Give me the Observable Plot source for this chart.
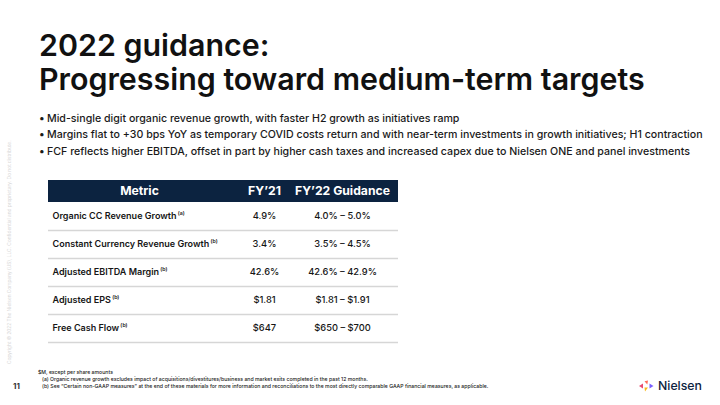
<!DOCTYPE html>
<html><head><meta charset="utf-8">
<script src="https://cdn.jsdelivr.net/npm/d3@7"></script>
<script src="https://cdn.jsdelivr.net/npm/@observablehq/plot@0.6"></script>
<style>
body{margin:0;background:#fff;}
#slide{position:relative;width:720px;height:405px;overflow:hidden;font-family:Inter,"Noto Sans",sans-serif;color:#111;background:#fff;}
.abs{position:absolute;white-space:nowrap;}
#title div{line-height:1;font-weight:600;color:#111;}
#bullets div{color:#1a1a1a;font-weight:500;}
#notes div{color:#222;font-weight:500;}
#chart{position:absolute;left:0;top:0;}
</style></head><body>
<div id="slide">
  <div id="title" class="abs" style="left:39px;top:0"></div>
  <div id="bullets" class="abs" style="left:0;top:0"></div>
  <div id="chart"></div>
  <div id="copy" class="abs"></div>
  <div id="page" class="abs"></div>
  <div id="notes" class="abs" style="left:0;top:0"></div>
  <div id="logo" class="abs"></div>
</div>
<script>
// ---------- data ----------
const titleLines = ["2022 guidance:", "Progressing toward medium-term targets"];
const bullets = [
  "Mid-single digit organic revenue growth, with faster H2 growth as initiatives ramp",
  "Margins flat to +30 bps YoY as temporary COVID costs return and with near-term investments in growth initiatives; H1 contraction",
  "FCF reflects higher EBITDA, offset in part by higher cash taxes and increased capex due to Nielsen ONE and panel investments"
];
const headers = ["Metric", "FY\u201921", "FY\u201922 Guidance"];
const metrics = ["Organic CC Revenue Growth", "Constant Currency Revenue Growth", "Adjusted EBITDA Margin", "Adjusted EPS", "Free Cash Flow"];
const noteRefs = ["(a)", "(b)", "(b)", "(b)", "(b)"];
const fy21 = ["4.9%", "3.4%", "42.6%", "$1.81", "$647"];
const fy22Low = ["4.0%", "3.5%", "42.6%", "$1.81", "$650"];
const fy22High = ["5.0%", "4.5%", "42.9%", "$1.91", "$700"];
const footnotes = [
  "$M, except per share amounts",
  "(a) Organic revenue growth excludes impact of acquisitions/divestitures/business and market exits completed in the past 12 months.",
  "(b) See \u201cCertain non-GAAP measures\u201d at the end of these materials for more information and reconciliations to the most directly comparable GAAP financial measures, as applicable."
];
const copyright = "Copyright \u00a9 2022 The Nielsen Company (US), LLC. Confidential and proprietary. Do not distribute.";
const pageNumber = "11";
const brand = "Nielsen";

// ---------- helpers ----------
const NAVY = "#0c2340";
const ctx = document.createElement("canvas").getContext("2d");
function measure(text, weight, size) { ctx.font = `${weight} ${size}px Inter`; return ctx.measureText(text).width; }
function fit(text, weight, target) { return 100 * target / measure(text, weight, 100); }
function topFor(baseline, fs, lh) { return baseline - ((lh - 1.21 * fs) / 2 + 0.969 * fs); }

// ---------- title ----------
const titleFs = fit(titleLines[1], 600, 606);
const titleEl = document.getElementById("title");
[56, 90].forEach((b, i) => {
  const d = document.createElement("div");
  d.className = "abs";
  d.style.fontSize = titleFs + "px";
  d.style.lineHeight = titleFs + "px";
  d.style.top = topFor(b, titleFs, titleFs) + "px";
  d.textContent = titleLines[i];
  titleEl.appendChild(d);
});

// ---------- bullets ----------
const bFs = fit(bullets[1], 500, 656);
const bEl = document.getElementById("bullets");
bullets.forEach((t, i) => {
  const base = 123.3 + i * 16.5;
  const lh = bFs * 1.4;
  const dot = document.createElement("div");
  dot.className = "abs";
  dot.style.cssText += `left:39px;font-size:${bFs}px;line-height:${lh}px;top:${topFor(base, bFs, lh)}px;`;
  dot.textContent = "\u2022";
  bEl.appendChild(dot);
  const d = document.createElement("div");
  d.className = "abs";
  d.style.cssText += `left:47px;font-size:${bFs}px;line-height:${lh}px;top:${topFor(base, bFs, lh)}px;`;
  d.textContent = t;
  bEl.appendChild(d);
});

// ---------- table (Observable Plot) ----------
const tableW = 350;          // table width in px units
const headH = 22 / 28;       // header height in row units
const colX = [91, 216, 294]; // column centres (table units)
const labelX = 4;
const headerCells = headers.map((h, i) => ({name: h, x: colX[i]}));
const rows = metrics.map((m, i) => ({i, metric: m, note: noteRefs[i], fy21: fy21[i], fy22: `${fy22Low[i]} \u2013 ${fy22High[i]}`}));
const labelFs = fit(metrics[1], 600, 157);
const valFs = labelFs * 1.03;
const headFs = fit(headers[2], 700, 95);

const chart = Plot.plot({
  width: 720, height: 405,
  marginLeft: 48, marginRight: 720 - 48 - tableW,
  marginTop: 180, marginBottom: 63,
  x: {domain: [0, tableW], axis: null},
  y: {domain: [-headH, metrics.length], reverse: true, axis: null},
  style: {fontFamily: "Inter, 'Noto Sans', sans-serif", background: "transparent"},
  marks: [
    Plot.rect([headers], {x1: 0, x2: tableW, y1: -headH, y2: 0, fill: NAVY}),
    Plot.text(headerCells, {x: "x", y: -headH / 2, text: "name", textAnchor: "middle", fill: "white", fontWeight: 700, fontSize: headFs}),
    Plot.ruleY(rows, {y: d => d.i + 1, x1: 0, x2: tableW, stroke: "#d6d6d6", strokeWidth: 1.6}),
    Plot.text(rows, {x: labelX, y: d => d.i + 0.5, text: "metric", textAnchor: "start", fontWeight: 600, fontSize: labelFs, fill: "#161616"}),
    Plot.text(rows, {x: d => labelX + measure(d.metric, 600, labelFs) + 1.2, y: d => d.i + 0.5, text: "note", textAnchor: "start", fontWeight: 600, fontSize: labelFs * 0.58, dy: -3, fill: "#161616"}),
    Plot.text(rows, {x: colX[1], y: d => d.i + 0.5, text: "fy21", textAnchor: "middle", fontWeight: 500, fontSize: valFs, fill: "#161616"}),
    Plot.text(rows, {x: colX[2], y: d => d.i + 0.5, text: "fy22", textAnchor: "middle", fontWeight: 500, fontSize: valFs, fill: "#161616"})
  ]
});
document.getElementById("chart").appendChild(chart);

// ---------- footnotes ----------
const nFs = fit(footnotes[2], 500, 448);
const nEl = document.getElementById("notes");
footnotes.forEach((t, i) => {
  const base = 373.6 + i * 7.2;
  const d = document.createElement("div");
  d.className = "abs";
  d.style.cssText += `left:${i === 0 ? 38 : 42}px;font-size:${nFs}px;line-height:${nFs * 1.2}px;top:${topFor(base, nFs, nFs * 1.2)}px;`;
  d.textContent = t;
  nEl.appendChild(d);
});

// ---------- page number ----------
const pEl = document.getElementById("page");
pEl.style.cssText += `left:13px;font-size:8px;line-height:8px;font-weight:700;color:#333;top:${topFor(389, 8, 8)}px;`;
pEl.textContent = pageNumber;

// ---------- vertical copyright ----------
const cFs = fit(copyright, 400, 224);
const cEl = document.getElementById("copy");
cEl.textContent = copyright;
cEl.style.cssText += `font-size:${cFs}px;line-height:${cFs}px;color:#d9d9d9;left:${9 - cFs / 2}px;top:364px;transform-origin:0 0;transform:rotate(-90deg);`;

// ---------- logo ----------
const lEl = document.getElementById("logo");
const lFs = fit(brand, 500, 44);
lEl.style.cssText += `left:639px;top:378px;height:15px;display:flex;align-items:center;gap:4px;`;
lEl.innerHTML = `<svg width="15" height="12" viewBox="0 0 15 12">
  <polygon points="0,6 4,3.5 4,8.5" fill="#e94b6f"/>
  <polygon points="5.5,1.2 9,0.5 8.3,4.5" fill="#ff6b5a"/>
  <polygon points="5.5,7.5 9,7.5 6,11.5" fill="#f9b91c"/>
  <polygon points="10.5,3.5 14.5,6 10.5,8.5" fill="#7b61ff"/>
</svg><span style="font-size:${lFs}px;font-weight:500;color:${NAVY};line-height:15px">${brand}</span>`;
</script>
</body></html>
